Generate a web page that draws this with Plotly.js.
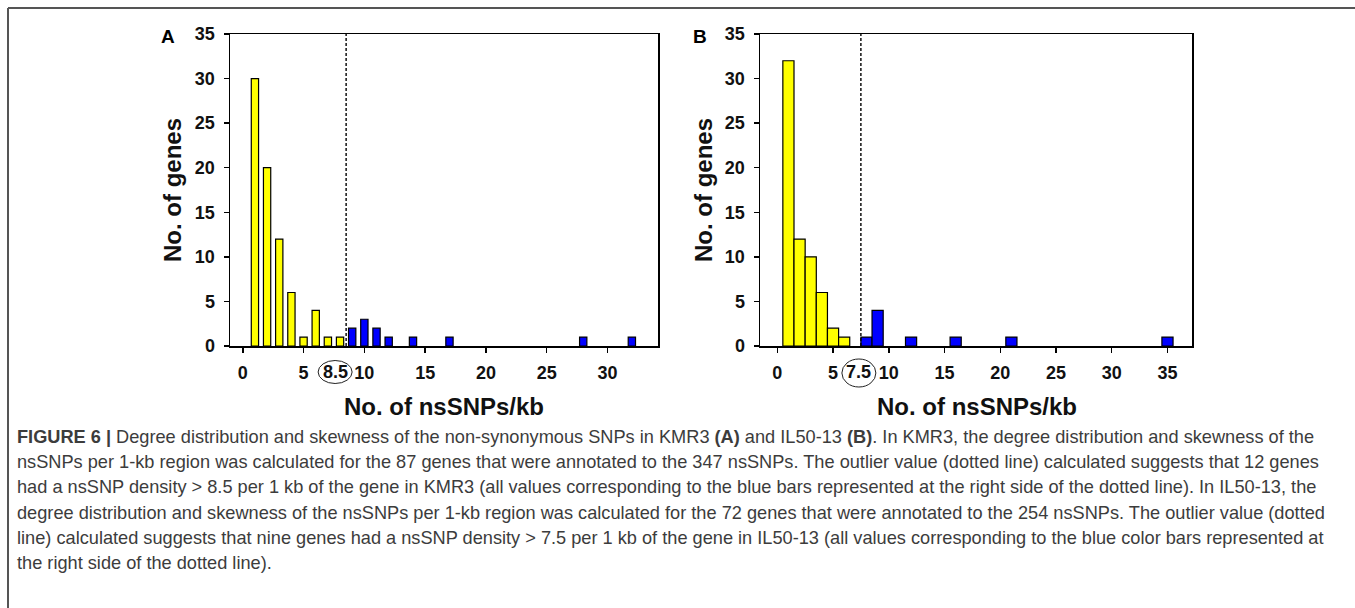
<!DOCTYPE html>
<html>
<head>
<meta charset="utf-8">
<script src="https://cdn.plot.ly/plotly-3.0.1.min.js"></script>
<style>html,body{margin:0;padding:0;background:#fff;}#chart{width:1355px;height:608px;}</style>
</head>
<body>
<div id="chart"></div>
<script>
// ---- data ----
var aYellowX = [1, 2, 3, 4, 5, 6, 7, 8];
var aYellowY = [30, 20, 12, 6, 1, 4, 1, 1];
var aBlueX = [9, 10, 11, 12, 14, 17, 28, 32];
var aBlueY = [2, 3, 2, 1, 1, 1, 1, 1];
var aCutoff = 8.5;
var aTicks = [0, 5, 10, 15, 20, 25, 30];

var bYellowX = [1, 2, 3, 4, 5, 6];
var bYellowY = [32, 12, 10, 6, 2, 1];
var bBlueX = [8, 9, 12, 16, 21, 35];
var bBlueY = [1, 4, 1, 1, 1, 1];
var bCutoff = 7.5;
var bTicks = [0, 5, 10, 15, 20, 25, 30, 35];

var yTicks = [0, 5, 10, 15, 20, 25, 30, 35];
var xTitle = "No. of nsSNPs/kb";
var yTitle = "No. of genes";
var panelLabels = ["A", "B"];

var captionLines = [
  "<b>FIGURE 6 |</b> Degree distribution and skewness of the non-synonymous SNPs in KMR3 <b>(A)</b> and IL50-13 <b>(B)</b>. In KMR3, the degree distribution and skewness of the",
  "nsSNPs per 1-kb region was calculated for the 87 genes that were annotated to the 347 nsSNPs. The outlier value (dotted line) calculated suggests that 12 genes",
  "had a nsSNP density &gt; 8.5 per 1 kb of the gene in KMR3 (all values corresponding to the blue bars represented at the right side of the dotted line). In IL50-13, the",
  "degree distribution and skewness of the nsSNPs per 1-kb region was calculated for the 72 genes that were annotated to the 254 nsSNPs. The outlier value (dotted",
  "line) calculated suggests that nine genes had a nsSNP density &gt; 7.5 per 1 kb of the gene in IL50-13 (all values corresponding to the blue color bars represented at",
  "the right side of the dotted line)."
];

// ---- layout helpers ----
var W = 1355, H = 608;
function px(x) { return x / W; }
function py(y) { return 1 - y / H; }
var FONT = "Liberation Sans, Arial, sans-serif";
var yellow = "#ffff00", blue = "#0000ff";
var barLine = {color: "#000000", width: 1.2};

var traces = [
  {type: "bar", x: aYellowX, y: aYellowY, width: 0.6, marker: {color: yellow, line: barLine}, xaxis: "x", yaxis: "y", hoverinfo: "x+y"},
  {type: "bar", x: aBlueX, y: aBlueY, width: 0.6, marker: {color: blue, line: barLine}, xaxis: "x", yaxis: "y", hoverinfo: "x+y"},
  {type: "bar", x: bYellowX, y: bYellowY, width: 1.0, marker: {color: yellow, line: barLine}, xaxis: "x2", yaxis: "y2", hoverinfo: "x+y"},
  {type: "bar", x: bBlueX, y: bBlueY, width: 1.0, marker: {color: blue, line: barLine}, xaxis: "x2", yaxis: "y2", hoverinfo: "x+y"}
];

var yDom = [py(346), py(34)];
var tickFont = {family: FONT, size: 18, color: "#111", weight: "bold"};
function xAxis(dom, range, ticks, anchor) {
  return {domain: dom, range: range, tickvals: ticks, ticktext: ticks.map(String),
    ticks: "outside", ticklen: 5, tickwidth: 1.5, tickcolor: "#000",
    showline: true, linewidth: 1.5, linecolor: "#000", mirror: true,
    showgrid: false, zeroline: false, anchor: anchor, fixedrange: true,
    ticklabelstandoff: 5,
    tickfont: tickFont};
}
function yAxis(anchor) {
  return {domain: yDom, range: [0, 35], tickvals: yTicks,
    ticks: "outside", ticklen: 5, tickwidth: 1.5, tickcolor: "#000",
    showline: true, linewidth: 1.5, linecolor: "#000", mirror: true,
    showgrid: false, zeroline: false, anchor: anchor, fixedrange: true,
    ticklabelstandoff: 5,
    tickfont: tickFont};
}

var annotations = [];
var titleFont = {family: FONT, size: 24, color: "#111"};
// axis titles
annotations.push({xref: "paper", yref: "paper", x: px(444), y: py(406), text: "<b>" + xTitle + "</b>", showarrow: false, xanchor: "center", yanchor: "middle", font: titleFont});
annotations.push({xref: "paper", yref: "paper", x: px(977), y: py(406), text: "<b>" + xTitle + "</b>", showarrow: false, xanchor: "center", yanchor: "middle", font: titleFont});
annotations.push({xref: "paper", yref: "paper", x: px(172), y: py(190), text: "<b>" + yTitle + "</b>", textangle: -90, showarrow: false, xanchor: "center", yanchor: "middle", font: titleFont});
annotations.push({xref: "paper", yref: "paper", x: px(703), y: py(190), text: "<b>" + yTitle + "</b>", textangle: -90, showarrow: false, xanchor: "center", yanchor: "middle", font: titleFont});
// panel labels
annotations.push({xref: "paper", yref: "paper", x: px(168), y: py(36), text: "<b>" + panelLabels[0] + "</b>", showarrow: false, xanchor: "center", yanchor: "middle", font: {family: FONT, size: 19, color: "#000"}});
annotations.push({xref: "paper", yref: "paper", x: px(700), y: py(36), text: "<b>" + panelLabels[1] + "</b>", showarrow: false, xanchor: "center", yanchor: "middle", font: {family: FONT, size: 19, color: "#000"}});
// cutoff labels
annotations.push({xref: "x", yref: "paper", x: aCutoff, y: py(372), xshift: -11, text: "<b>" + aCutoff + "</b>", showarrow: false, xanchor: "center", yanchor: "middle", font: tickFont});
annotations.push({xref: "x2", yref: "paper", x: bCutoff, y: py(372), xshift: -2, text: "<b>" + bCutoff + "</b>", showarrow: false, xanchor: "center", yanchor: "middle", font: tickFont});
// caption
var capY = [437, 462.2, 487.4, 512.6, 537.8, 563];
captionLines.forEach(function (t, i) {
  annotations.push({xref: "paper", yref: "paper", x: px(15), y: py(capY[i]), text: t, showarrow: false, xanchor: "left", yanchor: "middle", align: "left", font: {family: FONT, size: 18.2, color: "#3c3c3c"}});
});

var shapes = [
  // dashed outlier lines
  {type: "line", xref: "x", yref: "y domain", x0: aCutoff, x1: aCutoff, y0: 0, y1: 1, line: {color: "#000", width: 1.4, dash: "3px,2px"}},
  {type: "line", xref: "x2", yref: "y2 domain", x0: bCutoff, x1: bCutoff, y0: 0, y1: 1, line: {color: "#000", width: 1.4, dash: "3px,2px"}},
  // ellipses around cutoff labels
  {type: "circle", xref: "x", yref: "paper", xsizemode: "pixel", ysizemode: "pixel", xanchor: aCutoff, yanchor: py(372), x0: -28, x1: 6, y0: -11.5, y1: 11.5, line: {color: "#222", width: 1}},
  {type: "circle", xref: "x2", yref: "paper", xsizemode: "pixel", ysizemode: "pixel", xanchor: bCutoff, yanchor: py(373), x0: -19, x1: 15, y0: -14, y1: 14, line: {color: "#222", width: 1}},
  // outer figure frame (top and left edges)
  {type: "line", xref: "paper", yref: "paper", x0: px(8), x1: 1, y0: py(8), y1: py(8), line: {color: "#555", width: 2}},
  {type: "line", xref: "paper", yref: "paper", x0: px(8), x1: px(8), y0: py(8), y1: 0, line: {color: "#555", width: 2}}
];

var layout = {
  width: W, height: H,
  margin: {l: 0, r: 0, t: 0, b: 0},
  paper_bgcolor: "#fff", plot_bgcolor: "#fff",
  showlegend: false, barmode: "overlay",
  font: {family: FONT},
  xaxis: xAxis([px(230), px(658)], [-1.05, 34.15], aTicks, "y"),
  yaxis: yAxis("x"),
  xaxis2: xAxis([px(760), px(1192)], [-1.55, 37.2], bTicks, "y2"),
  yaxis2: yAxis("x2"),
  annotations: annotations,
  shapes: shapes
};

Plotly.newPlot("chart", traces, layout, {displayModeBar: false, staticPlot: true});
</script>
</body>
</html>
